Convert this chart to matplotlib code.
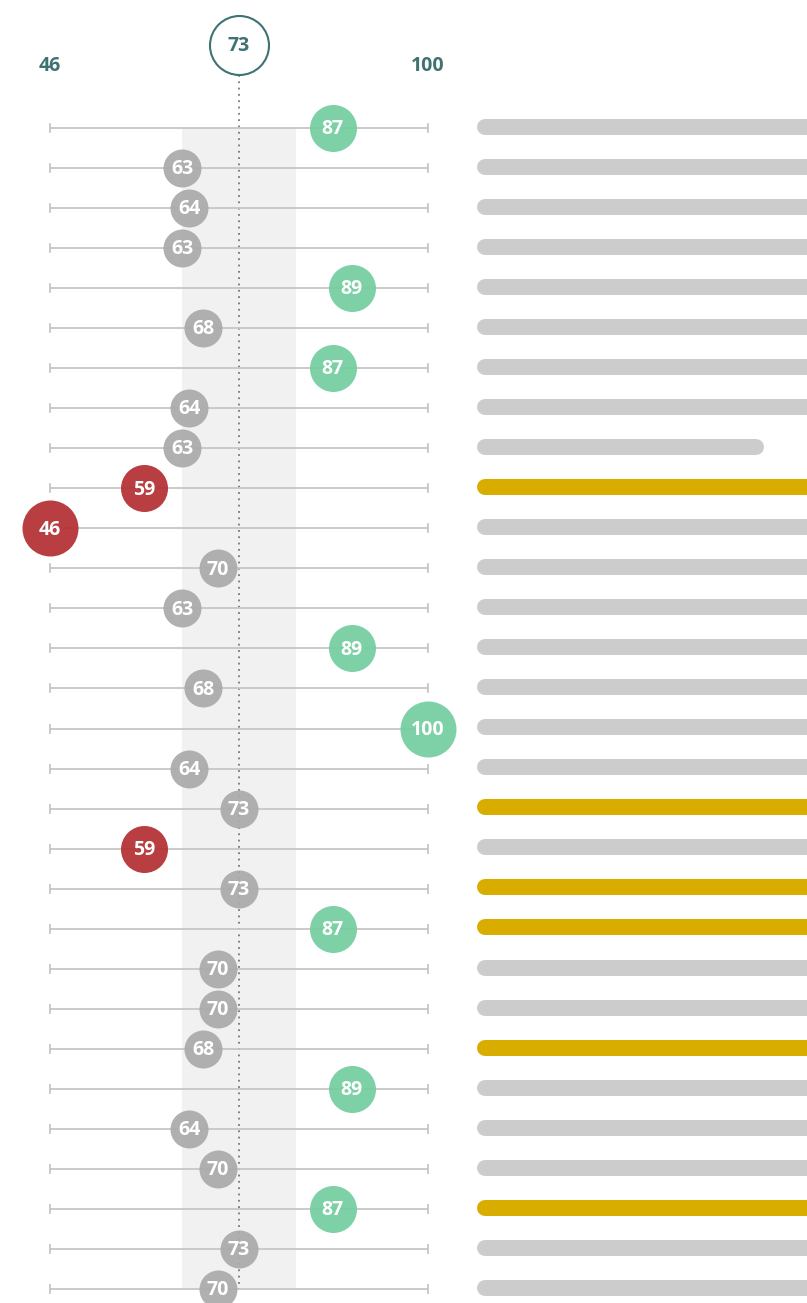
import matplotlib.pyplot as plt
import numpy as np

plt.rcParams['font.family'] = ['Open Sans', 'DejaVu Sans']

# score labels per row and where each dot sits on the 46..100 scale
scores = [87, 63, 64, 63, 89, 68, 87, 64, 63, 59, 46, 70, 63, 89, 68,
          100, 64, 73, 59, 73, 87, 70, 70, 68, 89, 64, 70, 87, 73, 70]
score_pos = [86.4, 64.9, 65.9, 64.9, 89.1, 67.9, 86.4, 65.9, 64.9, 59.4,
             46.0, 70.0, 64.9, 89.1, 67.9, 100.0, 65.9, 73.0, 59.4, 73.0,
             86.4, 70.0, 70.0, 67.9, 89.1, 65.9, 70.0, 86.4, 73.0, 70.0]
# right hand bars (percent of visible width), highlighted rows
bar_len = [120, 120, 120, 120, 120, 120, 120, 120, 87, 120, 120, 120, 120, 120, 120,
           120, 120, 120, 120, 120, 120, 120, 120, 120, 120, 120, 120, 120, 120, 120]
highlight = [9, 17, 19, 20, 23, 27]

scale_min, scale_max = 46, 100
mean_val = 73
band_lo, band_hi = 64.86, 81.14

W, H = 807, 1303
fig = plt.figure(figsize=(W / 100, H / 100), dpi=100)

# left axes, pixel-calibrated: 46 -> x=50, 100 -> x=428, row i -> y=128+40.03*i
px_per = (428 - 50) / (scale_max - scale_min)
row_h = (1289 - 128) / 29
ax = fig.add_axes([0, 0, 1, 1])
ax.set_xlim(scale_min - 50 / px_per, scale_min + (W - 50) / px_per)
ax.set_ylim((H - 128) / row_h, -128 / row_h)
ax.axis('off')

n = len(scores)
rows = np.arange(n)

teal = '#3f7373'
ax.axvspan(band_lo, band_hi, ymin=1 - (128 + row_h * (n - 1)) / H, ymax=1 - 128 / H,
           color='#f1f1f1', lw=0, zorder=0)

# dotted mean line
ax.plot([mean_val, mean_val], [-1.33, n - 1], color='#777777', lw=1.3,
        linestyle=(0, (1, 2.5)), zorder=1)

# row lines with end caps
for r in rows:
    ax.plot([scale_min, scale_max], [r, r], color='#c6c6c6', lw=1.3, zorder=2,
            solid_capstyle='butt')
    ax.plot([scale_min, scale_min], [r - 0.1, r + 0.1], color='#c6c6c6', lw=1.3, zorder=2)
    ax.plot([scale_max, scale_max], [r - 0.1, r + 0.1], color='#c6c6c6', lw=1.3, zorder=2)

# dots
for r, s, p in zip(rows, scores, score_pos):
    if s >= 85:
        c = '#74cea0'
    elif s < 60:
        c = '#b32f33'
    else:
        c = '#aaaaaa'
    if s in (scale_min, scale_max):
        d = 56
    elif c == '#aaaaaa':
        d = 38
    else:
        d = 47
    ax.scatter([p], [r], s=(d * 0.72) ** 2, color=c, lw=0, alpha=0.93, zorder=3)
    ax.text(p, r + 0.03, str(s), color='white', fontsize=14, fontweight='bold',
            ha='center', va='center', zorder=4)

# header
ax.text(scale_min, -1.55, '46', color=teal, fontsize=14, fontweight='bold',
        ha='center', va='center')
ax.text(scale_max, -1.55, '100', color=teal, fontsize=14, fontweight='bold',
        ha='center', va='center')
ax.scatter([mean_val], [-2.07], s=(59 * 0.72) ** 2, facecolor='white',
           edgecolor=teal, lw=1.5, zorder=5)
ax.text(mean_val, -2.05, str(mean_val), color=teal, fontsize=14, fontweight='bold',
        ha='center', va='center', zorder=6)

# right bars
bx0 = 477
bax = fig.add_axes([bx0 / W, 0, 1 - bx0 / W, 1])
bax.set_xlim(0, 100)
bax.set_ylim(ax.get_ylim())
bax.axis('off')
cap = 8 / (W - bx0) * 100
for r, L in zip(rows, bar_len):
    c = '#d8ad00' if r in highlight else '#cccccc'
    bax.plot([cap, L - cap], [r - 0.03, r - 0.03], color=c, lw=16 * 0.72,
             solid_capstyle='round', zorder=2)

fig.savefig('out.png', dpi=100)
